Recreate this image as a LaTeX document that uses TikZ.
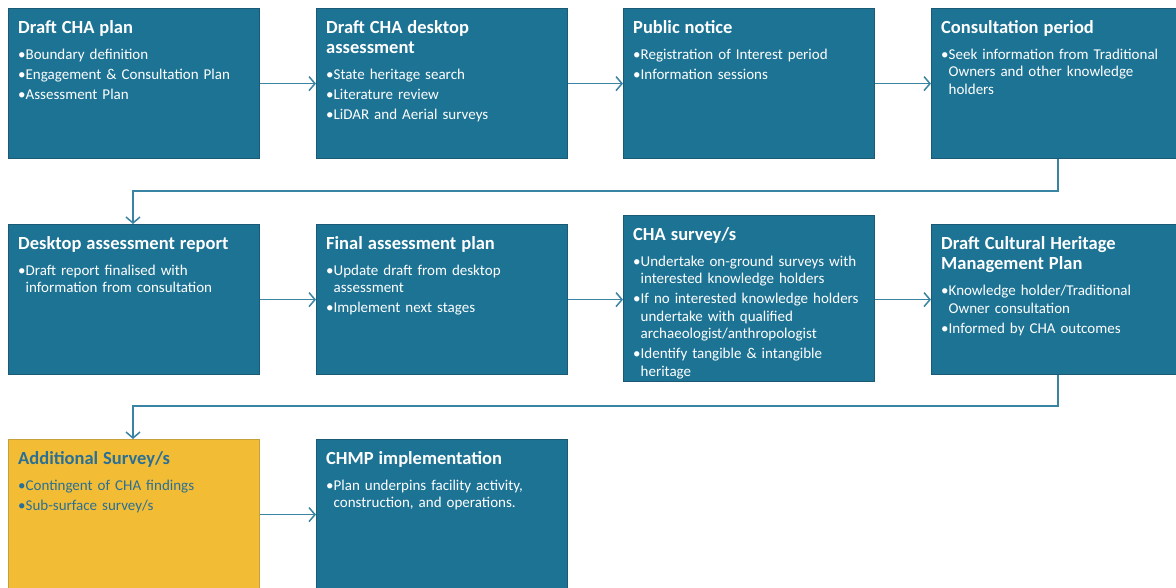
\documentclass[tikz,border=0pt]{standalone}
\usepackage{fontspec}
\setmainfont{Carlito}
\usetikzlibrary{arrows.meta}
\definecolor{boxblue}{HTML}{1D7394}
\definecolor{boxedge}{HTML}{1A5A75}
\definecolor{linkblue}{HTML}{3A84A3}
\definecolor{boxyellow}{HTML}{F2BD35}
\definecolor{yedge}{HTML}{C6A03A}
\definecolor{ytext}{HTML}{2A6F96}
\newlength{\bulw}
\newcommand{\bitem}[1]{\par\settowidth{\bulw}{\textbullet}\hangindent=\bulw\hangafter=1\textbullet#1\par}
\newcommand{\btitle}[1]{{\fontsize{18.5pt}{20pt}\selectfont\bfseries #1\par}\vspace{6pt}}
\newcommand{\boxfont}{\fontsize{15pt}{17.5pt}\selectfont\hyphenpenalty=10000\exhyphenpenalty=10000\parskip=2.5pt\relax}
\tikzset{
  stagebox/.style={draw=boxedge, fill=boxblue, line width=1.2pt, minimum width=251pt, minimum height=150pt, anchor=north west, inner sep=0pt},
  altbox/.style={stagebox, draw=yedge, fill=boxyellow},
  boxtext/.style={anchor=north west, inner sep=0pt, text width=238pt, align=left, text=white, font=\boxfont},
  link/.style={draw=linkblue, line width=1.5pt, -{Straight Barb[length=6pt,width=14pt,line width=1.5pt]}}
}
\begin{document}
\begin{tikzpicture}[x=1pt,y=-1pt]
\clip (0,0) rectangle (1176,588);
\fill[white] (0,0) rectangle (1176,588);
% row 1
\node[stagebox] (b1) at (8,8) {};
\node[stagebox] (b2) at (316,8) {};
\node[stagebox] (b3) at (623,8) {};
\node[stagebox] (b4) at (931,8) {};
% row 2
\node[stagebox] (b5) at (8,224) {};
\node[stagebox] (b6) at (316,224) {};
\node[stagebox, minimum height=166pt] (b7) at (623,215) {};
\node[stagebox] (b8) at (931,224) {};
% row 3
\node[altbox] (b9) at (8,439) {};
\node[stagebox] (b10) at (316,439) {};

\path (b1.north west) ++(10,12) node[boxtext] (t1) {\btitle{Draft CHA plan}\bitem{Boundary definition}\bitem{Engagement \& Consultation Plan}\bitem{Assessment Plan}};
\path (b2.north west) ++(10,12.5) node[boxtext] (t2) {\btitle{Draft CHA desktop\\assessment}\bitem{State heritage search}\bitem{Literature review}\bitem{LiDAR and Aerial surveys}};
\path (b3.north west) ++(10,12) node[boxtext] (t3) {\btitle{Public notice}\bitem{Registration of Interest period}\bitem{Information sessions}};
\path (b4.north west) ++(10,12) node[boxtext] (t4) {\btitle{Consultation period}\bitem{Seek information from Traditional\newline Owners and other knowledge\newline holders}};
\path (b5.north west) ++(10,12) node[boxtext] (t5) {\btitle{Desktop assessment report}\bitem{Draft report finalised with\newline information from consultation}};
\path (b6.north west) ++(10,12) node[boxtext] (t6) {\btitle{Final assessment plan}\bitem{Update draft from desktop\newline assessment}\bitem{Implement next stages}};
\path (b7.north west) ++(10,12) node[boxtext] (t7) {\btitle{CHA survey/s}\bitem{Undertake on-ground surveys with\newline interested knowledge holders}\bitem{If no interested knowledge holders\newline undertake with qualified\newline archaeologist/anthropologist}\bitem{Identify tangible \& intangible\newline heritage}};
\path (b8.north west) ++(10,12.5) node[boxtext] (t8) {\btitle{Draft Cultural Heritage\\Management Plan}\bitem{Knowledge holder/Traditional\newline Owner consultation}\bitem{Informed by CHA outcomes}};
\path (b9.north west) ++(10,12) node[boxtext, text=ytext] (t9) {\btitle{Additional Survey/s}\bitem{Contingent of CHA findings}\bitem{Sub-surface survey/s}};
\path (b10.north west) ++(10,12) node[boxtext] (t10) {\btitle{CHMP implementation}\bitem{Plan underpins facility activity,\newline construction, and operations.}};

% connectors
\draw[link] (b1.east) -- (b2.west);
\draw[link] (b2.east) -- (b3.west);
\draw[link] (b3.east) -- (b4.west);
\coordinate (d1) at (1058,191);
\coordinate (d2) at (133,191);
\draw[link] (b4.south -| d1) -- (d1) -- (d2) -- (d2 |- b5.north);
\draw[link] (b5.east) -- (b6.west);
\draw[link] (b6.east |- b5.east) -- (b7.west |- b5.east);
\draw[link] (b7.east |- b8.east) -- (b8.west);
\coordinate (d3) at (1058,406);
\coordinate (d4) at (133,406);
\draw[link] (b8.south -| d3) -- (d3) -- (d4) -- (d4 |- b9.north);
\draw[link] (b9.east) -- (b10.west);
\end{tikzpicture}
\end{document}
